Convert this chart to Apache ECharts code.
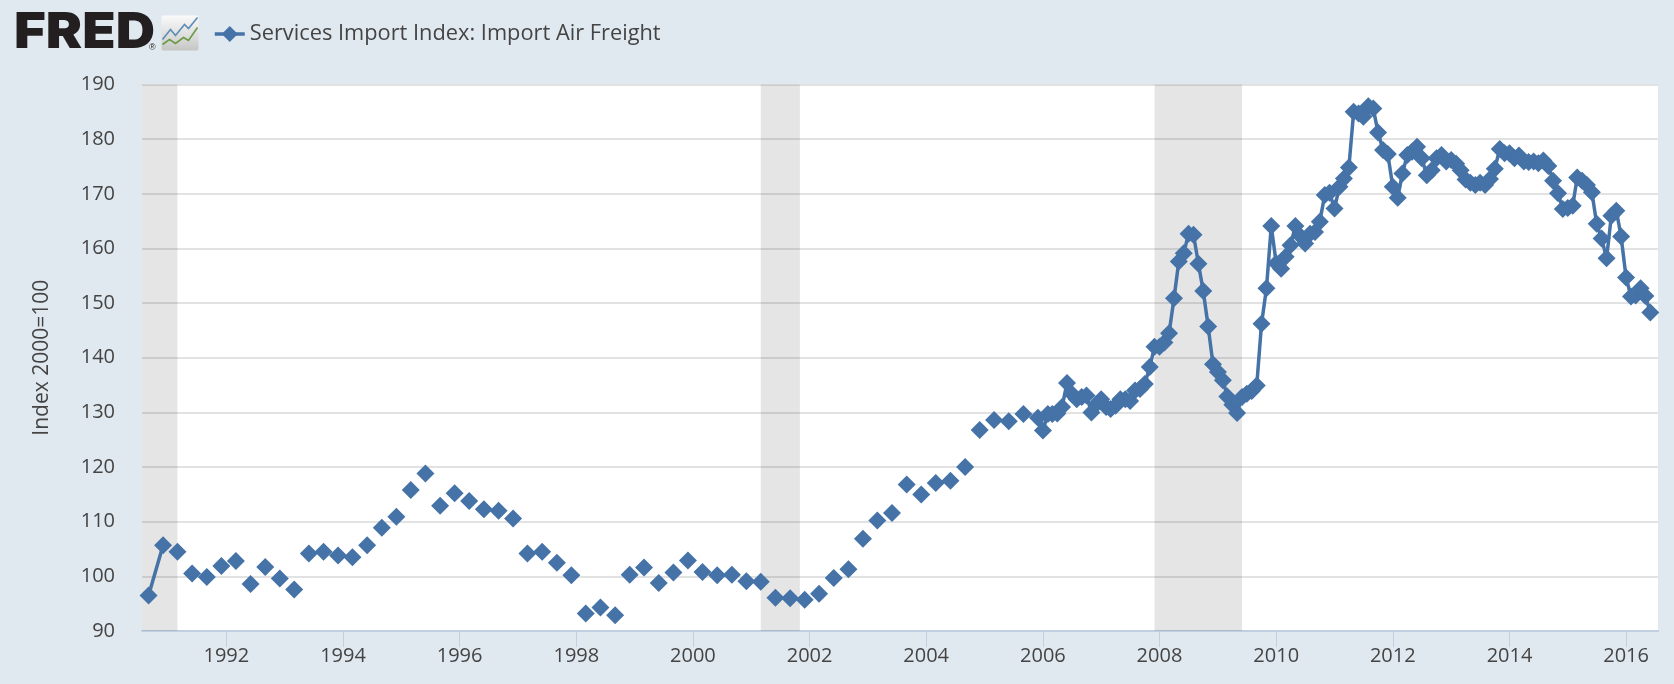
<!DOCTYPE html>
<html>
<head>
<meta charset="utf-8">
<title>Services Import Index: Import Air Freight</title>
<script src="https://cdn.jsdelivr.net/npm/echarts@6/dist/echarts.min.js"></script>
<style>
  html, body { margin: 0; padding: 0; background: #e1e9f0; }
  #chart { width: 1674px; height: 684px; }
</style>
</head>
<body>
<div id="chart"></div>
<script>
const seriesName = "Services Import Index: Import Air Freight";
const axisName = "Index 2000=100";

// quarterly part, Sep 1990 to Sep 2005: markers stand alone, except the first pair
const quarterlyValues = [
  96.5, 105.7,
  104.5, 100.5, 99.9, 101.9,
  102.8, 98.6, 101.7, 99.6,
  97.6, 104.2, 104.5, 103.8,
  103.5, 105.7, 108.9, 110.9,
  115.8, 118.8, 112.9, 115.2,
  113.8, 112.3, 112.0, 110.6,
  104.2, 104.5, 102.5, 100.2,
  93.2, 94.3, 92.9, 100.3,
  101.6, 98.8, 100.7, 102.9,
  100.8, 100.2, 100.3, 99.1,
  99.0, 96.1, 96.0, 95.7,
  96.8, 99.7, 101.3, 106.9,
  110.2, 111.6, 116.8, 115.0,
  117.1, 117.5, 120.0, 126.8,
  128.6, 128.4, 129.7,
];

// monthly part, Dec 2005 to Jun 2016
const monthlyValues = [
  129.0,
  126.7, 129.7, 129.7, 129.8, 131.0, 135.4, 133.4, 132.4, 132.8, 133.1, 130.0, 131.5,
  132.4, 131.0, 130.6, 131.2, 132.4, 132.4, 132.1, 134.0, 134.3, 135.2, 138.3, 142.0,
  142.0, 142.8, 144.5, 150.9, 157.6, 159.1, 162.7, 162.5, 157.2, 152.2, 145.7, 138.8,
  137.4, 135.9, 132.9, 131.4, 129.9, 132.8, 133.4, 133.9, 134.9, 146.2, 152.7, 164.1,
  157.3, 156.3, 158.5, 160.6, 164.1, 162.3, 160.9, 162.7, 163.0, 164.9, 169.8, 170.2,
  167.3, 171.3, 172.8, 174.8, 185.0, 184.7, 184.1, 186.0, 185.6, 181.2, 178.0, 177.3,
  171.3, 169.3, 173.7, 177.1, 177.7, 178.6, 176.5, 173.4, 174.3, 176.5, 177.1, 175.9,
  176.2, 175.5, 174.3, 172.6, 172.0, 171.6, 172.0, 171.6, 172.7, 174.6, 178.2, 177.4,
  177.4, 176.5, 177.0, 175.9, 175.8, 175.9, 175.6, 176.1, 175.1, 172.4, 170.1, 167.2,
  167.4, 167.8, 173.0, 172.4, 171.6, 170.3, 164.5, 161.8, 158.2, 166.0, 166.9, 162.2,
  154.7, 151.2, 151.4, 152.7, 151.3, 148.3,
];

const recessions = [
  ["1990-07-01", "1991-03-01"],
  ["2001-03-01", "2001-11-01"],
  ["2007-12-01", "2009-06-01"],
];

const yearTicks = [1992, 1994, 1996, 1998, 2000, 2002, 2004, 2006, 2008, 2010, 2012, 2014, 2016];

const monthStr = (start, step) => {
  const d = new Date(start[0], start[1] - 1 + step, 1);
  const mm = String(d.getMonth() + 1).padStart(2, "0");
  return d.getFullYear() + "-" + mm + "-01";
};

const seriesData = [];
quarterlyValues.forEach((v, i) => {
  const date = monthStr([1990, 9], i * 3);
  seriesData.push([date, v]);
  // a null row breaks the line after every point but the first
  if (i > 0) seriesData.push([date, null]);
});
monthlyValues.forEach((v, i) => {
  seriesData.push([monthStr([2005, 12], i), v]);
});

const tickDates = yearTicks.map((y) => new Date(y, 0, 1).getTime());
const textColor = "#444444";
const lineColor = "#4572a7";
const fontFamily = "'Open Sans', sans-serif";

var myChart = echarts.init(document.getElementById("chart"));
var option = {
  animation: false,
  backgroundColor: "#e1e9f0",
  legend: {
    left: 208,
    top: 18,
    itemWidth: 30,
    itemHeight: 20,
    itemStyle: { color: lineColor },
    lineStyle: { color: lineColor, width: 3.5 },
    data: [seriesName],
    textStyle: { color: textColor, fontFamily: fontFamily, fontSize: 21.8 },
  },
  grid: {
    left: 142,
    right: 16,
    top: 84.5,
    bottom: 53,
    show: true,
    backgroundColor: "#ffffff",
    borderWidth: 0,
  },
  xAxis: {
    type: "time",
    min: "1990-07-22",
    max: "2016-07-19",
    axisLine: { lineStyle: { color: "#c0d0e0", width: 2 } },
    axisTick: { length: 16, customValues: tickDates, lineStyle: { color: "#c0d0e0", width: 1 } },
    axisLabel: {
      customValues: tickDates,
      formatter: "{yyyy}",
      color: textColor,
      fontFamily: fontFamily,
      fontSize: 20,
      margin: 15,
      hideOverlap: false,
    },
    splitLine: { show: false },
  },
  yAxis: {
    type: "value",
    min: 90,
    max: 190,
    interval: 10,
    name: axisName,
    nameLocation: "middle",
    nameGap: 89,
    nameRotate: 90,
    nameTextStyle: { color: textColor, fontFamily: fontFamily, fontSize: 21 },
    axisLine: { show: false },
    axisTick: { show: false },
    axisLabel: { color: textColor, fontFamily: fontFamily, fontSize: 20, margin: 27 },
    splitLine: { lineStyle: { color: "#e2e2e2", width: 2 } },
  },
  series: [
    {
      name: seriesName,
      type: "line",
      data: seriesData,
      symbol: "diamond",
      symbolSize: 18,
      showSymbol: true,
      showAllSymbol: true,
      connectNulls: false,
      clip: false,
      lineStyle: { color: lineColor, width: 3.5 },
      itemStyle: { color: lineColor },
      markArea: {
        silent: true,
        itemStyle: { color: "rgba(0,0,0,0.1)" },
        data: recessions.map((r) => [{ xAxis: r[0] }, { xAxis: r[1] }]),
      },
    },
  ],
  graphic: [
    {
      type: "text",
      left: 14,
      top: 8,
      scaleX: 1.09,
      style: { text: "FRED", fill: "#231f20", font: "900 50px 'Inter', 'Liberation Sans', sans-serif" },
    },
    {
      type: "text",
      left: 149,
      top: 43,
      style: { text: "®", fill: "#231f20", font: "9px 'Liberation Sans', sans-serif" },
    },
    {
      type: "group",
      left: 160,
      top: 15,
      children: [
        {
          type: "rect",
          shape: { x: 0, y: 0, width: 37, height: 35, r: 2 },
          style: {
            fill: new echarts.graphic.LinearGradient(0, 0, 0, 1, [
              { offset: 0, color: "#fafafa" },
              { offset: 0.6, color: "#dcdcdc" },
              { offset: 1, color: "#c4c6c4" },
            ]),
          },
        },
        {
          type: "polyline",
          shape: { points: [[1, 24], [9, 14], [14, 20], [23, 9], [27, 13], [36, 2]] },
          style: { stroke: "#5b8db5", lineWidth: 1.6, fill: null },
        },
        {
          type: "polyline",
          shape: { points: [[1, 29], [8, 24], [14, 28], [22, 22], [27, 25], [36, 12]] },
          style: { stroke: "#6a9a45", lineWidth: 1.6, fill: null },
        },
      ],
    },
  ],
};

myChart.setOption(option);
window.addEventListener("resize", myChart.resize);
</script>
</body>
</html>
